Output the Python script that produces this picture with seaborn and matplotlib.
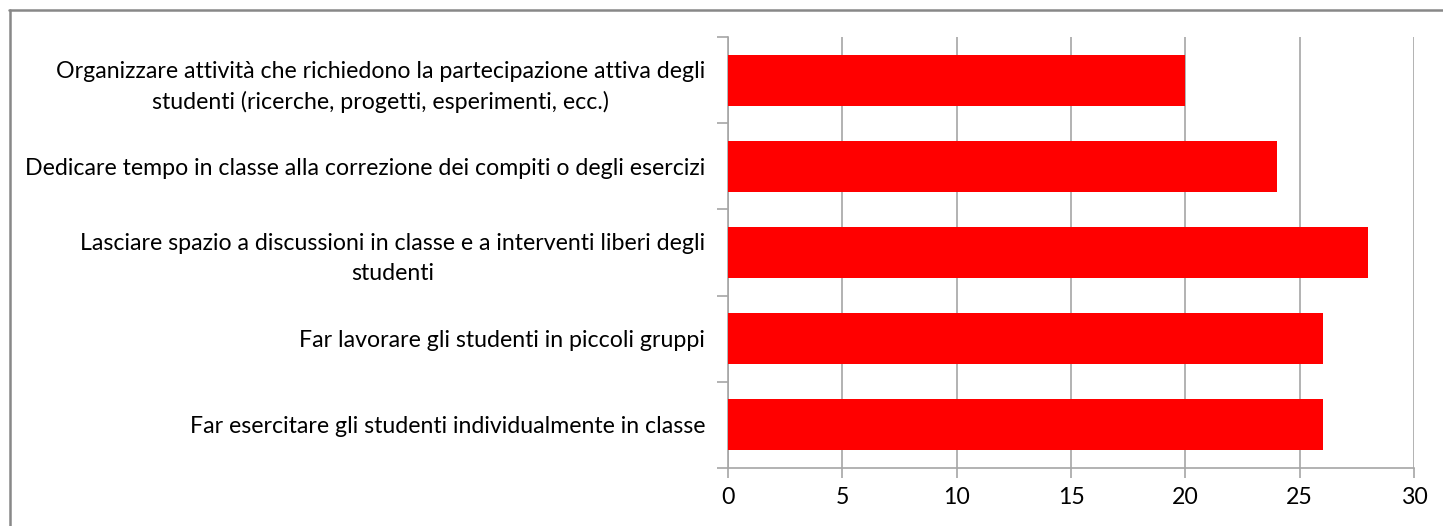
import matplotlib
matplotlib.use("Agg")
import matplotlib.pyplot as plt
import seaborn as sns
import pandas as pd
from matplotlib.lines import Line2D
from matplotlib.ticker import FixedLocator

categories = [
    "Organizzare attività che richiedono la partecipazione attiva degli\nstudenti (ricerche, progetti, esperimenti, ecc.)",
    "Dedicare tempo in classe alla correzione dei compiti o degli esercizi",
    "Lasciare spazio a discussioni in classe e a interventi liberi degli\nstudenti",
    "Far lavorare gli studenti in piccoli gruppi",
    "Far esercitare gli studenti individualmente in classe",
]
values = [20, 24, 28, 26, 26]
xticks = [0, 5, 10, 15, 20, 25, 30]

sns.set_style("white")
plt.rcParams['font.family'] = ['Lato', 'DejaVu Sans']

df = pd.DataFrame({"cat": categories, "val": values})

fig = plt.figure(figsize=(14.43, 5.26), dpi=100)
ax = fig.add_axes([728/1443, 1-468/526, (1414-728)/1443, (468-37)/526])

sns.barplot(data=df, x="val", y="cat", orient="h", color="#ff0000",
            width=0.59, saturation=1, linewidth=0, ax=ax, zorder=3)

ax.set_xlim(0, 30)
ax.set_ylim(4.5, -0.5)
ax.set_xticks(xticks)
ax.set_xticklabels([str(t) for t in xticks])
ax.set_xlabel("")
ax.set_ylabel("")

gc = "#a6a6a6"
ax.grid(axis="x", color=gc, linewidth=1.2, zorder=0)
ax.grid(axis="y", visible=False)
ax.set_axisbelow(True)
for s in ["top", "right"]:
    ax.spines[s].set_visible(False)
for s in ["left", "bottom"]:
    ax.spines[s].set_color(gc)
    ax.spines[s].set_linewidth(1.2)

fs = 16.7
ax.tick_params(axis="x", direction="out", length=7, width=1.2, color=gc,
               labelsize=fs, pad=7, labelcolor="black", bottom=True)
ax.tick_params(axis="y", which="major", length=0, labelsize=fs, pad=16.5, labelcolor="black")
ax.yaxis.set_minor_locator(FixedLocator([-0.5, 0.5, 1.5, 2.5, 3.5, 4.5]))
ax.tick_params(axis="y", which="minor", direction="out", length=8, width=1.2, color=gc, left=True)
for lab in ax.get_yticklabels():
    lab.set_multialignment("center")
    lab.set_linespacing(1.5)

bc = "#888888"
fig.add_artist(Line2D([9.5/1443, 9.5/1443], [0, 1-10/526], transform=fig.transFigure,
                      color=bc, linewidth=1.8))
fig.add_artist(Line2D([9/1443, 1], [1-10/526, 1-10/526], transform=fig.transFigure,
                      color=bc, linewidth=1.8))

fig.savefig("out.png", dpi=100)
